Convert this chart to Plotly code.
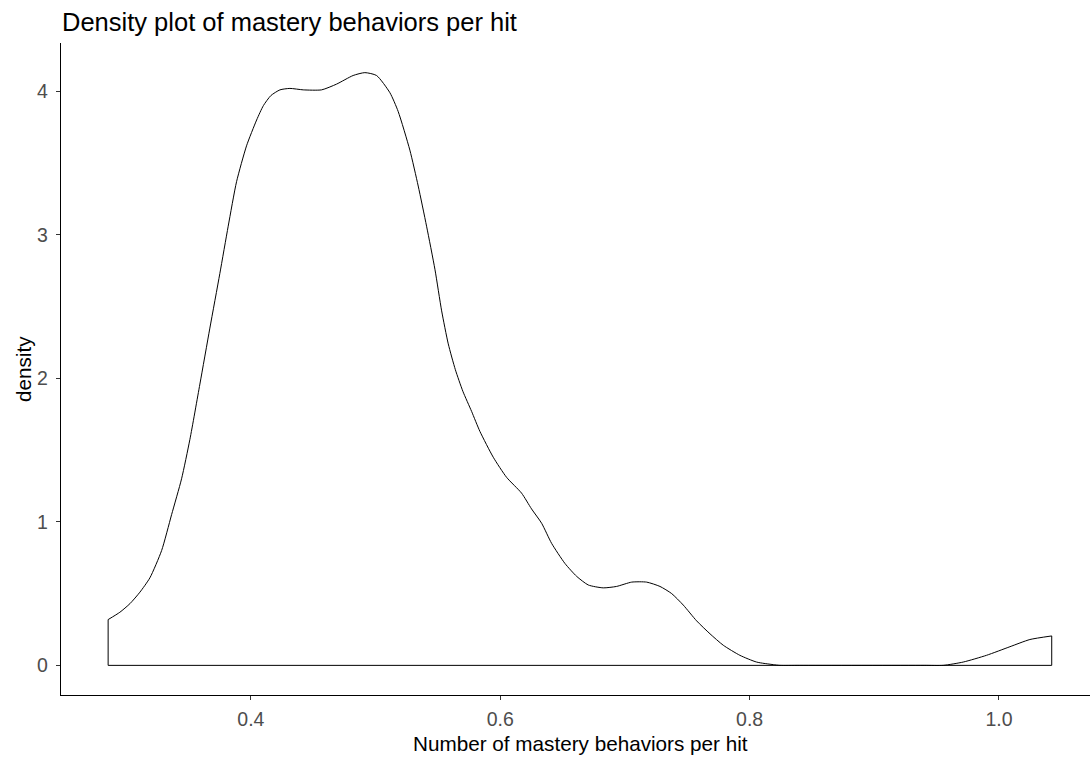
import plotly.graph_objects as go

# Density curve (x: mastery behaviors per hit, y: density)
dens_x = [0.2855, 0.2949, 0.3030, 0.3110, 0.3190, 0.3284, 0.3364, 0.3444, 0.3511,
          0.3591, 0.3671, 0.3751, 0.3818, 0.3885, 0.3965, 0.4046, 0.4100, 0.4160,
          0.4233, 0.4313, 0.4420, 0.4567, 0.4687, 0.4820, 0.4914, 0.5008, 0.5115,
          0.5181, 0.5275, 0.5342, 0.5409, 0.5476, 0.5530, 0.5583, 0.5640, 0.5700,
          0.5770, 0.5837, 0.5944, 0.6051, 0.6171, 0.6251, 0.6332, 0.6412, 0.6519,
          0.6613, 0.6706, 0.6826, 0.6933, 0.7054, 0.7174, 0.7281, 0.7375, 0.7468,
          0.7575, 0.7682, 0.7789, 0.7922, 0.8056, 0.8190, 0.8243, 0.8400, 0.9400,
          0.9553, 0.9713, 0.9900, 1.0088, 1.0248, 1.0423]
dens_y = [0.319, 0.370, 0.430, 0.510, 0.610, 0.800, 1.05, 1.30, 1.575,
          1.96, 2.35, 2.73, 3.06, 3.37, 3.62, 3.80, 3.90, 3.97,
          4.01, 4.02, 4.01, 4.01, 4.05, 4.11, 4.13, 4.11, 3.99,
          3.86, 3.59, 3.34, 3.06, 2.76, 2.47, 2.24, 2.06, 1.91,
          1.77, 1.63, 1.45, 1.31, 1.20, 1.09, 0.99, 0.85, 0.71,
          0.62, 0.56, 0.54, 0.55, 0.58, 0.58, 0.55, 0.50, 0.42,
          0.31, 0.22, 0.14, 0.07, 0.023, 0.005, 0.0, 0.0, 0.0,
          0.0, 0.023, 0.07, 0.13, 0.18, 0.205]

x_ticks = [0.4, 0.6, 0.8, 1.0]
x_tick_labels = ["0.4", "0.6", "0.8", "1.0"]
y_ticks = [0, 1, 2, 3, 4]
y_tick_labels = ["0", "1", "2", "3", "4"]

title_text = "Density plot of mastery behaviors per hit"
x_title = "Number of mastery behaviors per hit"
y_title = "density"

FONT = "Arial, Liberation Sans, sans-serif"

fig = go.Figure()
# smooth density curve
fig.add_trace(go.Scatter(x=dens_x, y=dens_y, mode="lines",
                         line=dict(color="black", width=1, shape="spline", smoothing=0.6),
                         hoverinfo="skip", showlegend=False))
# closing edges of the density polygon (left side, baseline, right side)
edge_x = [dens_x[0], dens_x[0], dens_x[-1], dens_x[-1]]
edge_y = [dens_y[0], 0, 0, dens_y[-1]]
fig.add_trace(go.Scatter(x=edge_x, y=edge_y, mode="lines",
                         line=dict(color="black", width=1),
                         hoverinfo="skip", showlegend=False))

W, H = 1090, 759
ml, mr, mt, mb = 61, 0, 43, 64

fig.update_layout(
    width=W, height=H,
    margin=dict(l=ml, r=mr, t=mt, b=mb, pad=0),
    paper_bgcolor="white", plot_bgcolor="white",
    font=dict(family=FONT, color="#4D4D4D"),
    showlegend=False,
    title=dict(text=title_text, x=62 / W, xanchor="left", xref="container",
               y=1 - 22 / H, yanchor="middle", yref="container",
               font=dict(family=FONT, size=25.5, color="black")),
)

fig.update_xaxes(range=[0.2477, 1.073], showgrid=False, zeroline=False,
                 showline=True, linecolor="black", linewidth=1.3,
                 ticks="outside", ticklen=4, tickwidth=1.3, tickcolor="#333333",
                 tickvals=x_ticks, ticktext=x_tick_labels, ticklabelstandoff=2,
                 tickfont=dict(family=FONT, size=19.5, color="#4D4D4D"))
fig.update_yaxes(range=[-0.2065, 4.3365], showgrid=False, zeroline=False,
                 showline=True, linecolor="black", linewidth=1.3,
                 ticks="outside", ticklen=4, tickwidth=1.3, tickcolor="#333333",
                 tickvals=y_ticks, ticktext=y_tick_labels, ticklabelstandoff=4,
                 tickfont=dict(family=FONT, size=19.5, color="#4D4D4D"))

plot_h = H - mt - mb
fig.add_annotation(text=x_title, xref="paper", yref="paper",
                   x=(580 - ml) / (W - ml - mr), y=(H - mb - 744) / plot_h,
                   xanchor="center", yanchor="middle", showarrow=False,
                   font=dict(family=FONT, size=20.7, color="black"))
fig.add_annotation(text=y_title, xref="paper", yref="paper",
                   x=(23 - ml) / (W - ml - mr), y=(H - mb - 369) / plot_h,
                   xanchor="center", yanchor="middle", showarrow=False, textangle=-90,
                   font=dict(family=FONT, size=20.7, color="black"))

fig.write_html("out.html", config={"displayModeBar": False},
               post_script="document.body.style.margin='0';")
